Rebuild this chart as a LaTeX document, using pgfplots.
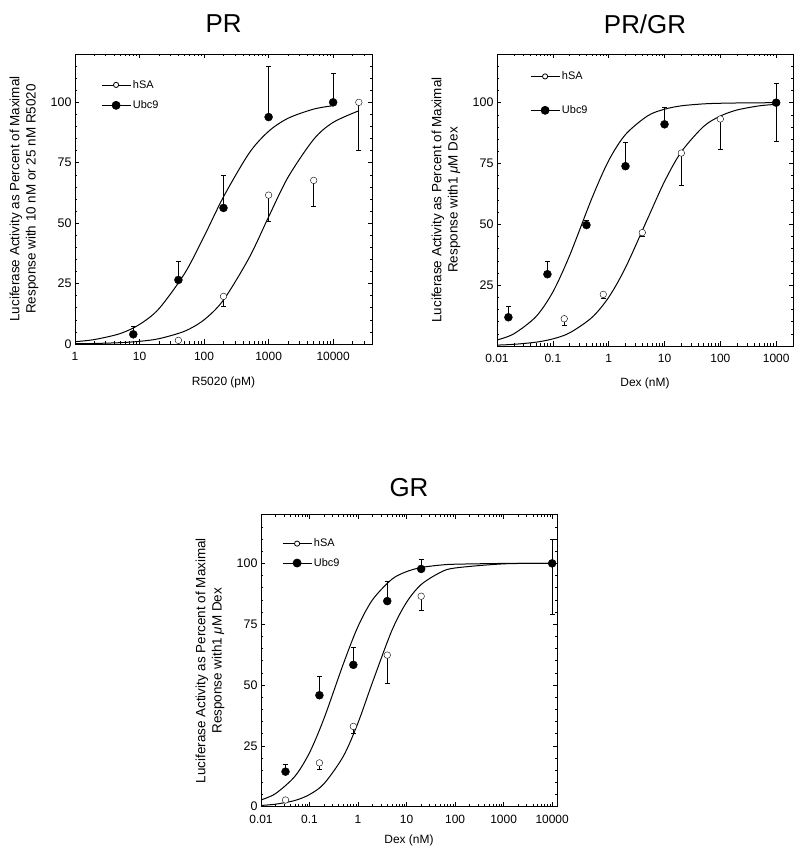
\documentclass[border=0pt]{standalone}
\usepackage{fontspec}
\setmainfont{Liberation Sans}
\usepackage{pgfplots}
\pgfplotsset{compat=1.18}

\pgfplotsset{
 every axis/.append style={
  scale only axis,
  ymin=0, ymax=120,
  minor ytick={5,10,...,115},
  axis line style={line width=0.8bp},
  major tick length=4.5bp, minor tick length=2.5bp,
  tick align=inside,
  /pgf/number format/assume math mode=true,
  xticklabel style={font=\fontsize{12}{13}\selectfont, yshift=-5bp},
  yticklabel style={font=\fontsize{12.5}{14}\selectfont},
  xlabel style={font=\fontsize{12}{14}\selectfont, at={(axis description cs:0.5,0)}, anchor=center, yshift=-38bp},
  ylabel style={font=\fontsize{13.5}{16.5}\selectfont, at={(axis description cs:0,0.5)}, anchor=center, yshift=51bp, align=center},
  title style={font=\fontsize{26}{30}\selectfont, at={(axis description cs:0.5,1)}, anchor=center, yshift=24bp},
  legend cell align=left,
  legend style={draw=none, fill=none, at={(axis description cs:0,1)}, anchor=north west, inner sep=0pt, font=\fontsize{11}{13}\selectfont},
 },
 every tick/.style={black, line width=0.6bp},
 fitcurve/.style={black, line width=1bp, no marks, smooth, forget plot},
 filledpts/.style={black, only marks, mark=*, mark size=4bp, forget plot,
   error bars/.cd, y dir=plus, y explicit,
   error bar style={line width=0.8bp},
   error mark options={rotate=90, mark size=2.5bp, line width=0.8bp}},
 openpts/.style={black, only marks, mark=*, mark size=3.3bp, mark options={fill=white}, forget plot,
   error bars/.cd, y dir=minus, y explicit,
   error bar style={line width=0.8bp},
   error mark options={rotate=90, mark size=2.5bp, line width=0.8bp}},
}

\begin{document}
\begin{tikzpicture}
\useasboundingbox (0,0) rectangle (800bp,855bp);

% ---------------- PR ----------------
\begin{axis}[xmode=log,
  at={(75bp,511bp)}, anchor=south west, width=297bp, height=290bp,
  xmin=1, xmax=40000,
  xtick={1,10,100,1000,10000}, xticklabels={1,10,100,1000,10000},
  minor xtick={2,3,4,5,6,7,8,9,20,30,40,50,60,70,80,90,200,300,400,500,600,700,800,900,2000,3000,4000,5000,6000,7000,8000,9000,20000,30000},
  ytick={0,25,50,75,100},
  title={PR},
  xlabel={R5020 (pM)},
  ylabel={Luciferase Activity as Percent of Maximal\\Response with 10 nM or 25 nM R5020},
  legend image code/.code={\draw[mark repeat=2,mark phase=2,#1] plot coordinates {(0bp,0bp) (14.5bp,0bp) (29bp,0bp)};},
  legend style={xshift=26bp, yshift=-24bp, row sep=7bp},
]
\addlegendimage{black, line width=0.8bp, mark=*, mark size=2.6bp, mark options={fill=white}}\addlegendentry{hSA}
\addlegendimage{black, line width=0.8bp, mark=*, mark size=4bp}\addlegendentry{Ubc9}
\addplot[fitcurve] coordinates {(1,0.95)(2,1.84)(5,4.3)(10,8.1)(20,14.6)(50,29.2)(100,44.5)(200,60.9)(500,79.0)(1000,88.0)(2000,93.4)(5000,97.2)(10000,98.6)};
\addplot[fitcurve] coordinates {(1,0.11)(2,0.22)(5,0.55)(10,1.1)(20,2.2)(50,5.3)(100,10.0)(200,18.2)(500,35.7)(1000,52.6)(2000,69.0)(5000,84.7)(10000,91.7)(25000,96.5)};
\addplot[openpts] coordinates {(40,1.5) +- (0,0) (200,19.7) +- (0,4.0) (1000,61.6) +- (0,10.7) (5000,67.7) +- (0,10.7) (25000,100) +- (0,20.0)};
\addplot[filledpts] coordinates {(8,4.0) +- (0,3.1) (40,26.5) +- (0,7.5) (200,56.3) +- (0,13.5) (1000,93.9) +- (0,20.8) (10000,100) +- (0,11.9)};
\end{axis}

% ---------------- PR/GR ----------------
\begin{axis}[xmode=log,
  at={(497bp,509bp)}, anchor=south west, width=296bp, height=292bp,
  xmin=0.01, xmax=2000,
  xtick={0.01,0.1,1,10,100,1000}, xticklabels={0.01,0.1,1,10,100,1000},
  minor xtick={0.02,0.03,0.04,0.05,0.06,0.07,0.08,0.09,0.2,0.3,0.4,0.5,0.6,0.7,0.8,0.9,2,3,4,5,6,7,8,9,20,30,40,50,60,70,80,90,200,300,400,500,600,700,800,900},
  ytick={25,50,75,100},
  title={PR/GR},
  xlabel={Dex (nM)},
  xlabel style={yshift=1bp},
  ylabel={Luciferase Activity as Percent of Maximal\\Response with1 \textit{μ}M Dex},
  legend image code/.code={\draw[mark repeat=2,mark phase=2,#1] plot coordinates {(0bp,0bp) (14.5bp,0bp) (29bp,0bp)};},
  legend style={xshift=33bp, yshift=-15.5bp, row sep=20.5bp},
]
\addlegendimage{black, line width=0.8bp, mark=*, mark size=2.6bp, mark options={fill=white}}\addlegendentry{hSA}
\addlegendimage{black, line width=0.8bp, mark=*, mark size=4bp}\addlegendentry{Ubc9}
\addplot[fitcurve] coordinates {(0.01,2.48)(0.02,5.0)(0.05,12.1)(0.1,22.2)(0.2,37.2)(0.5,60.7)(1,76.2)(2,86.9)(5,94.6)(10,97.3)(20,98.7)(50,99.5)(100,99.75)(300,99.92)(1000,99.98)};
\addplot[fitcurve] coordinates {(0.01,0.36)(0.02,0.68)(0.05,1.57)(0.1,2.92)(0.2,5.4)(0.5,11.7)(1,20.0)(2,32.2)(5,52.4)(10,67.6)(20,79.8)(50,90.2)(100,94.5)(200,97.0)(500,98.7)(1000,99.3)};
\addplot[openpts] coordinates {(0.16,11.2) +- (0,2.9) (0.8,21.2) +- (0,1.6) (4,46.6) +- (0,1.6) (20,79.3) +- (0,13.2) (100,93.3) +- (0,12.7) (1000,100) +- (0,16.1)};
\addplot[filledpts] coordinates {(0.016,11.8) +- (0,4.3) (0.08,29.5) +- (0,5.4) (0.4,49.7) +- (0,2.1) (2,73.9) +- (0,9.7) (10,91.1) +- (0,6.8) (1000,100) +- (0,7.9)};
\end{axis}

% ---------------- GR ----------------
\begin{axis}[xmode=log,
  at={(261bp,48.3bp)}, anchor=south west, width=296bp, height=292bp,
  xmin=0.01, xmax=12600,
  xtick={0.01,0.1,1,10,100,1000,10000}, xticklabels={0.01,0.1,1,10,100,1000,10000},
  minor xtick={0.02,0.03,0.04,0.05,0.06,0.07,0.08,0.09,0.2,0.3,0.4,0.5,0.6,0.7,0.8,0.9,2,3,4,5,6,7,8,9,20,30,40,50,60,70,80,90,200,300,400,500,600,700,800,900,2000,3000,4000,5000,6000,7000,8000,9000},
  ytick={0,25,50,75,100},
  title={GR},
  title style={yshift=-3bp},
  xlabel={Dex (nM)},
  xlabel style={yshift=4bp},
  ylabel={Luciferase Activity as Percent of Maximal\\Response with1 \textit{μ}M Dex},
  legend image code/.code={\draw[mark repeat=2,mark phase=2,#1] plot coordinates {(0bp,0bp) (14.5bp,0bp) (29bp,0bp)};},
  legend style={xshift=21bp, yshift=-22bp, row sep=6bp},
]
\addlegendimage{black, line width=0.8bp, mark=*, mark size=2.6bp, mark options={fill=white}}\addlegendentry{hSA}
\addlegendimage{black, line width=0.8bp, mark=*, mark size=4bp}\addlegendentry{Ubc9}
\addplot[fitcurve] coordinates {(0.01,2.78)(0.02,5.41)(0.05,12.5)(0.1,22.2)(0.2,36.4)(0.5,58.8)(1,74.1)(2,85.1)(5,93.5)(10,96.6)(20,98.3)(50,99.3)(100,99.65)(1000,99.97)(10000,100)};
\addplot[fitcurve] coordinates {(0.01,0.52)(0.02,1.04)(0.05,2.56)(0.1,5.0)(0.2,9.5)(0.5,20.8)(1,34.5)(2,51.3)(5,72.5)(10,84.0)(20,91.3)(50,96.3)(100,98.1)(1000,99.8)(10000,100)};
\addplot[openpts] coordinates {(0.032,2.75) +- (0,0) (0.16,18.0) +- (0,2.5) (0.8,33.0) +- (0,2.7) (4,62.3) +- (0,11.7) (20,86.5) +- (0,5.8) (10000,100) +- (0,21.0)};
\addplot[filledpts] coordinates {(0.032,14.4) +- (0,2.8) (0.16,45.8) +- (0,7.8) (0.8,58.3) +- (0,7.2) (4,84.5) +- (0,8.1) (20,97.7) +- (0,4.1) (10000,100) +- (0,9.8)};
\end{axis}
\end{tikzpicture}
\end{document}
